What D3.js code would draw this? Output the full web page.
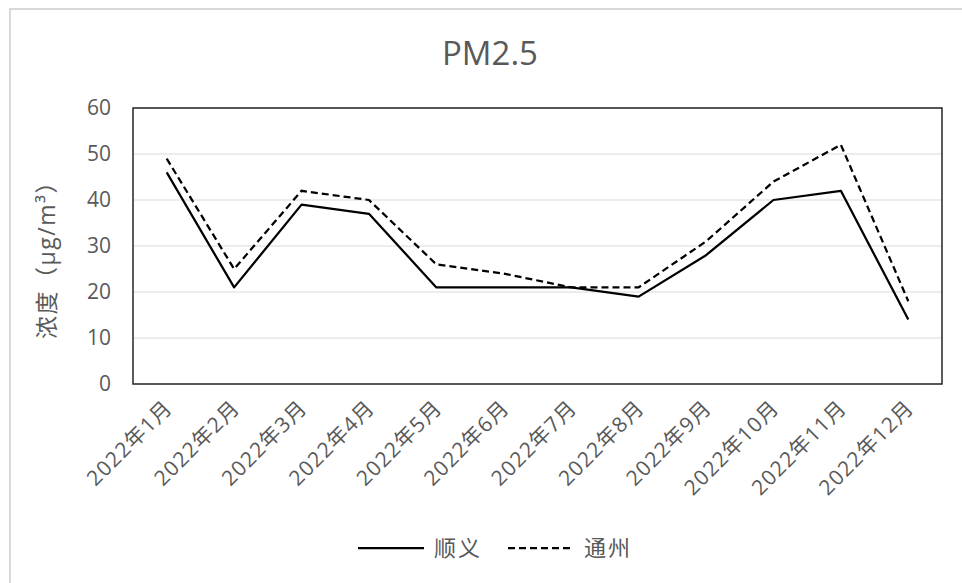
<!DOCTYPE html>
<html>
<head>
<meta charset="utf-8">
<script src="https://cdn.jsdelivr.net/npm/d3@7"></script>
<style>
  body { margin: 0; background: #fff; }
  svg text { font-family: "Open Sans", "Noto Sans CJK SC", sans-serif; fill: #595959; }
</style>
</head>
<body>
<div id="chart"></div>
<script>
const months = ["2022年1月","2022年2月","2022年3月","2022年4月","2022年5月","2022年6月",
  "2022年7月","2022年8月","2022年9月","2022年10月","2022年11月","2022年12月"];
const shunyi = [46, 21, 39, 37, 21, 21, 21, 19, 28, 40, 42, 14];
const tongzhou = [49, 25, 42, 40, 26, 24, 21, 21, 31, 44, 52, 18];
const yTicks = [0, 10, 20, 30, 40, 50, 60];
const seriesNames = ["顺义", "通州"];

const width = 962;
const height = 583;

// plot area
const plotLeft = 133, plotRight = 942, plotTop = 108, plotBottom = 384;

const svg = d3.select("#chart").append("svg")
.attr("width", width)
.attr("height", height);

// outer chart frame
svg.append("rect")
.attr("x", 10)
.attr("y", 9)
.attr("width", 980)
.attr("height", 600)
.attr("fill", "none")
.attr("stroke", "#d9d9d9")
.attr("stroke-width", 2)

const x = d3.scaleBand().domain(months).range([plotLeft, plotRight]);
const y = d3.scaleLinear().domain([0, 60]).range([plotBottom, plotTop]);

// gridlines
svg.append("g").selectAll("line").data(yTicks).join("line")
.attr("x1", plotLeft)
.attr("x2", plotRight)
.attr("y1", d => y(d))
.attr("y2", d => y(d))
.attr("stroke", "#d9d9d9")
.attr("stroke-width", 1)

// plot border
svg.append("rect")
.attr("x", plotLeft)
.attr("y", plotTop)
.attr("width", plotRight - plotLeft)
.attr("height", plotBottom - plotTop)
.attr("fill", "none")
.attr("stroke", "#262626")
.attr("stroke-width", 1.5)

// y tick labels
svg.append("g").selectAll("text").data(yTicks).join("text")
.attr("x", 111)
.attr("y", d => y(d))
.attr("dy", "0.35em")
.attr("text-anchor", "end")
.style("font-size", "21px")
.text(d => d)

// x labels
svg.append("g").selectAll("text").data(months).join("text")
.attr("transform", d => `translate(${x(d) + x.bandwidth() / 2 + 7},${409}) rotate(-45)`)
.attr("text-anchor", "end")
.style("font-size", "21px")
.style("letter-spacing", "1.2px")
.text(d => d)

// title
svg.append("text")
.attr("x", 490)
.attr("y", 65)
.attr("text-anchor", "middle")
.style("font-size", "33px")
.text("PM2.5")

// y axis title
svg.append("text")
.attr("transform", "translate(55,254) rotate(-90)")
.attr("text-anchor", "middle")
.style("font-size", "23px")
.style("letter-spacing", "1.5px")
.text("浓度（μg/m³）")

// lines
const line = d3.line()
.x((d, i) => x(months[i]) + x.bandwidth() / 2)
.y(d => y(d));

svg.append("path")
.datum(shunyi)
.attr("d", line)
.attr("fill", "none")
.attr("stroke", "#000")
.attr("stroke-width", 2.25)
.attr("stroke-linejoin", "round")

svg.append("path")
.datum(tongzhou)
.attr("d", line)
.attr("fill", "none")
.attr("stroke", "#000")
.attr("stroke-width", 2.25)
.attr("stroke-dasharray", "7,4")

// legend
const legend = svg.append("g")
const legendX = [358, 508];
legend.selectAll("line").data(seriesNames).join("line")
.attr("x1", (d, i) => legendX[i])
.attr("x2", (d, i) => legendX[i] + 66)
.attr("y1", 548)
.attr("y2", 548)
.attr("stroke", "#000")
.attr("stroke-width", 2.25)
.attr("stroke-dasharray", (d, i) => i === 0 ? null : "7,4")

legend.selectAll("text").data(seriesNames).join("text")
.attr("x", (d, i) => legendX[i] + 76)
.attr("y", 548)
.attr("dy", "0.35em")
.style("font-size", "22px")
.style("letter-spacing", "2px")
.text(d => d)
</script>
</body>
</html>
